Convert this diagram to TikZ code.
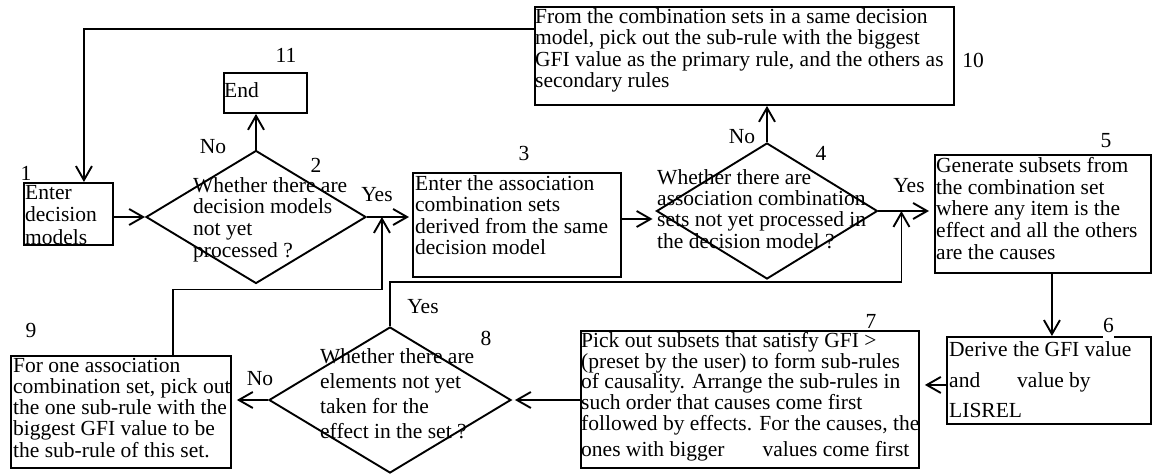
\documentclass[tikz,border=0pt]{standalone}
\usepackage{fontspec}
\setmainfont{Liberation Serif}
\usetikzlibrary{arrows.meta,shapes.geometric}
\newcommand{\firstline}{\rule{0pt}{15pt}}
\tikzset{
  box/.style={draw, line width=1.9pt, inner sep=0pt, anchor=north west},
  dia/.style={draw, diamond, line width=1.9pt, inner sep=0pt},
  txt/.style={inner sep=0pt, anchor=north west, align=left,
              font=\fontsize{21.5}{21.7}\selectfont},
  lbl/.style={inner sep=0pt, anchor=base, font=\fontsize{21.5}{21.7}\selectfont},
  conn/.style={line width=1.9pt},
  arr/.style={conn, -{Straight Barb[length=14pt,width=16pt]}},
}
\begin{document}
\begin{tikzpicture}[x=1pt,y=-1pt]
\useasboundingbox (0,0) rectangle (1152,474);

% process boxes
\node[box, minimum width=89pt,  minimum height=62pt]  (b1)  at (23,182) {};
\node[box, minimum width=83pt,  minimum height=40pt]  (b11) at (223,72) {};
\node[box, minimum width=208pt, minimum height=104pt] (b3)  at (412,172) {};
\node[box, minimum width=419pt, minimum height=98pt]  (b10) at (534,6) {};
\node[box, minimum width=216pt, minimum height=118pt] (b5)  at (934,154) {};
\node[box, minimum width=204pt, minimum height=87pt]  (b6)  at (946,336) {};
\node[box, minimum width=338pt, minimum height=137pt] (b7)  at (580,330) {};
\node[box, minimum width=220pt, minimum height=112pt] (b9)  at (10,355) {};

% decisions
\node[dia, minimum width=220pt, minimum height=133pt] (d2) at (256,217) {};
\node[dia, minimum width=221pt, minimum height=136pt] (d4) at (767,211) {};
\node[dia, minimum width=242pt, minimum height=146pt] (d8) at (390,400) {};

% texts
\begin{scope}
  \clip (b1.south west) rectangle (b1.north east);
  \node[txt, font=\fontsize{21.5}{22.5}\selectfont] (t1) at (25,184)
    {\firstline Enter\\decision\\models};
\end{scope}
\node[txt] (t11) at (224,82) {\firstline End};
\node[txt, font=\fontsize{21.5}{21.5}\selectfont] (t3) at (415,175)
  {\firstline Enter the association\\combination sets\\derived from the same\\decision model};
\node[txt, font=\fontsize{21.5}{21.5}\selectfont] (t10) at (535,8)
  {\firstline From the combination sets in a same decision\\model, pick out the sub-rule with the biggest\\GFI value as the primary rule, and the others as\\secondary rules};
\node[txt] (t5) at (936,157)
  {\firstline Generate subsets from\\the combination set\\where any item is the\\effect and all the others\\are the causes};
\node[txt] (t6) at (949,341)
  {\firstline Derive the GFI value\\[10pt]and\hspace{37pt}value by\\[7.5pt]LISREL};
\node[txt, font=\fontsize{21.5}{20.8}\selectfont] (t7) at (581,332)
  {\firstline Pick out subsets that satisfy GFI >\\(preset by the user) to form sub-rules\\of causality. Arrange the sub-rules in\\such order that causes come first\\followed by effects. For the causes, the\\[5.5pt]ones with bigger\hspace{38pt}values come first};
\node[txt, font=\fontsize{21.5}{21.2}\selectfont] (t9) at (13,357)
  {\firstline For one association\\combination set, pick out\\the one sub-rule with the\\biggest GFI value to be\\the sub-rule of this set.};
\node[txt] (t2) at (193,177)
  {\firstline Whether there are\\decision models\\not yet\\processed ?};
\node[txt, font=\fontsize{21.5}{21.3}\selectfont] (t4) at (657,169)
  {\firstline Whether there are\\association combination\\sets not yet processed in\\the decision model ?};
\node[txt, font=\fontsize{21.5}{25}\selectfont] (t8) at (320,348)
  {\firstline Whether there are\\elements not yet\\taken for the\\effect in the set ?};

% step numbers
\node[lbl] (n1)  at (26,180)  {1};
\node[lbl] (n2)  at (316,172) {2};
\node[lbl] (n3)  at (524,160) {3};
\node[lbl] (n4)  at (821,160) {4};
\node[lbl] (n5)  at (1106,147) {5};
\node[lbl, anchor=base west, fill=white, inner ysep=6pt] (n6) at (1103,332) {6\hspace{34pt}};
\node[lbl] (n7)  at (871,328) {7};
\node[lbl] (n8)  at (486,345) {8};
\node[lbl] (n9)  at (31,337)  {9};
\node[lbl] (n10) at (973,67)  {10};
\node[lbl] (n11) at (286,62)  {11};

% branch labels
\node[lbl] (no2)  at (213,153) {No};
\node[lbl] (yes2) at (377,201) {Yes};
\node[lbl] (no4)  at (742,143) {No};
\node[lbl] (yes4) at (909,192) {Yes};
\node[lbl] (yes8) at (423,313) {Yes};
\node[lbl] (no8)  at (260,385) {No};

% helper points
\coordinate (p4)  at ([yshift=-8pt]d4.west);
\coordinate (p10) at ([yshift=27pt]b10.west);
\coordinate (p1)  at ([xshift=15.5pt]b1.north);
\coordinate (p5)  at ([xshift=9pt]b5.south);
\coordinate (p6)  at ([yshift=-4.5pt]b6.west);
\coordinate (j4)  at ([xshift=23pt]d4.east);
\coordinate (r8)  at ([yshift=-2pt]d4.south);
\coordinate (j2)  at ([xshift=15pt]d2.east);
\coordinate (r2)  at ([yshift=-5pt]d2.south);
\coordinate (p9)  at ([xshift=52pt]b9.north);

% connectors
\draw[arr] (b1.east |- d2.west) -- (d2.west);
\draw[arr] (d2.north) -- (d2.north |- b11.south);
\draw[arr, shorten >=3pt] (d2.east) -- (d2.east -| b3.west);
\draw[arr, shorten >=3pt] (p4 -| b3.east) -- (p4);
\draw[arr] (d4.north) -- (d4.north |- b10.south);
\draw[arr, shorten >=5pt] (d4.east) -- (d4.east -| b5.west);
\draw[arr] (p10) -| (p1);
\draw[arr] (p5) -- (p5 |- b6.north);
\draw[arr, shorten >=5pt] (p6) -- (p6 -| b7.east);
\draw[arr, shorten >=3pt] (d8.east -| b7.west) -- (d8.east);
\draw[arr, shorten >=5pt] (d8.west) -- (d8.west -| b9.east);
\draw[arr] (d8.north) |- (r8) -| (j4);
\draw[arr] (p9) |- (r2) -| (j2);
\end{tikzpicture}
\end{document}
